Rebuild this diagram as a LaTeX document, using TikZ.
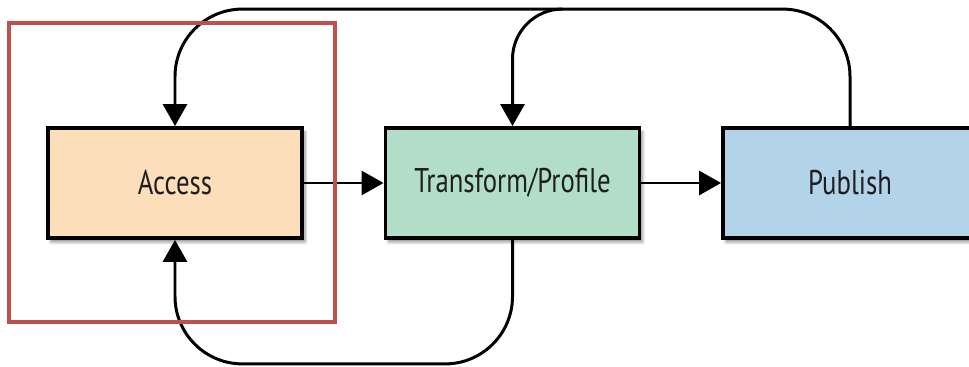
\documentclass[tikz,border=0pt]{standalone}
\usepackage{fontspec}
\setsansfont{PT Sans}[FakeStretch=0.78]
\usepackage{tikz}
\usetikzlibrary{arrows.meta,positioning,shadows.blur,calc}
\definecolor{AccessFill}{HTML}{FCDEBB}
\definecolor{TransformFill}{HTML}{B2DEC8}
\definecolor{PublishFill}{HTML}{B3D3E9}
\definecolor{FrameRed}{HTML}{C0504D}
\definecolor{TextGray}{HTML}{1E1E1E}

\begin{document}
\begin{tikzpicture}[
  on grid,
  node distance=6.75cm,
  >={Triangle[width=0.48cm,length=0.44cm]},
  link/.style={line width=1.7pt,draw=black},
  stage/.style={rectangle,draw=black,line width=2.2pt,
    minimum width=5.08cm,minimum height=2.2cm,
    font=\sffamily\fontsize{19.5}{22}\selectfont,text=TextGray,
    blur shadow={shadow xshift=0.06cm,shadow yshift=-0.08cm,
      shadow blur steps=6,shadow opacity=45}},
  highlight/.style={draw=FrameRed,line width=2.6pt}
  ]
  \useasboundingbox (0,0) rectangle (19.38,7.34);

  \node[stage,fill=AccessFill]    (access)    at (3.5,3.68)        {Access};
  \node[stage,fill=TransformFill] (transform) [right=of access]    {Transform/Profile};
  \node[stage,fill=PublishFill]   (publish)   [right=of transform] {Publish};

  \coordinate (fork) at ($(transform.north)+(1.0,2.34)$);

  \draw[link,->] (access) -- (transform);
  \draw[link,->] (transform) -- (publish);
  \draw[link,->,rounded corners=1.35cm] (publish.north) -- ++(0,2.34) -| (access.north);
  \draw[link,->,rounded corners=1cm] (fork) -| (transform.north);
  \draw[link,->,rounded corners=1.35cm] (transform.south) -- ++(0,-2.48) -| (access.south);

  \draw[highlight] (0.18,0.9) rectangle (6.7,6.88);
\end{tikzpicture}
\end{document}
